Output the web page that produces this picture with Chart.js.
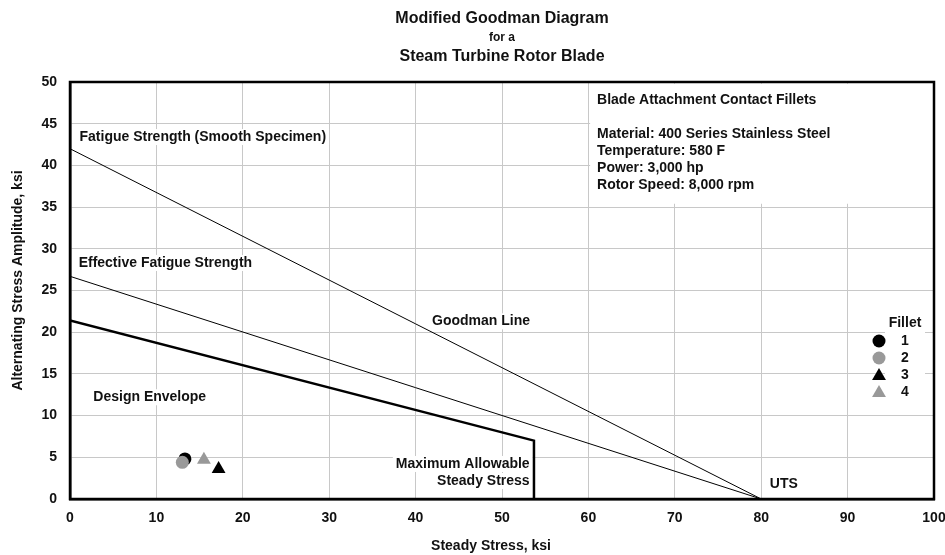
<!DOCTYPE html>
<html>
<head>
<meta charset="utf-8">
<script src="https://cdn.jsdelivr.net/npm/chart.js@4.4.1/dist/chart.umd.min.js"></script>
<style>
  html, body { margin: 0; padding: 0; background: #fff; }
  #wrap { width: 945px; height: 555px; }
</style>
</head>
<body>
<div id="wrap"><canvas id="goodman"></canvas></div>
<script>
// steady stress (x) / alternating stress (y), ksi
const fatigueX = [0, 80];
const fatigueY = [42, 0];
const effectiveX = [0, 80];
const effectiveY = [26.7, 0];
const envelopeX = [0, 53.7, 53.7];
const envelopeY = [21.4, 7.0, 0];

const filletNames = ['1', '2', '3', '4'];
const filletX = [13.3, 13.0, 17.2, 15.5];
const filletY = [4.8, 4.4, 3.6, 4.7];
const filletColors = ['#000000', '#999999', '#000000', '#999999'];
const filletShapes = ['circle', 'circle', 'triangle', 'triangle'];

const xMin = 0, xMax = 100, xStep = 10;
const yMin = 0, yMax = 50, yStep = 5;

const titleLines = ['Modified Goodman Diagram', 'for a', 'Steam Turbine Rotor Blade'];
const infoLines = ['Blade Attachment Contact Fillets', '', 'Material: 400 Series Stainless Steel',
  'Temperature: 580 F', 'Power: 3,000 hp', 'Rotor Speed: 8,000 rpm'];

const FONT = '"Liberation Sans", Arial, sans-serif';
const INK = '#111';

function pts(xs, ys) {
  return xs.map((x, i) => ({ x: x, y: ys[i] }));
}

const lineSets = [
  { label: 'Fatigue Strength', data: pts(fatigueX, fatigueY), borderWidth: 1 },
  { label: 'Effective Fatigue Strength', data: pts(effectiveX, effectiveY), borderWidth: 1 },
  { label: 'Design Envelope', data: pts(envelopeX, envelopeY), borderWidth: 2.5 }
].map(d => Object.assign(d, {
  showLine: true, borderColor: '#000', pointRadius: 0, fill: false, order: 10
}));

const filletSets = filletNames.map((n, i) => ({
  label: 'Fillet ' + n,
  data: [{ x: filletX[i], y: filletY[i] }],
  pointStyle: filletShapes[i],
  pointRadius: filletShapes[i] == 'circle' ? 6.5 : 8,
  backgroundColor: filletColors[i],
  borderColor: filletColors[i],
  borderWidth: 0,
  order: [2, 1, 4, 3][i]
}));

function label(ctx, x, y, lines, opts) {
  const o = Object.assign({ size: 14, align: 'left', box: true, gap: 17 }, opts || {});
  ctx.font = 'bold ' + o.size + 'px ' + FONT;
  ctx.textAlign = o.align;
  ctx.textBaseline = 'middle';
  lines.forEach((t, i) => {
    const w = ctx.measureText(t).width;
    const yy = y + i * o.gap;
    if (o.box && t) {
      const x0 = o.align == 'right' ? x - w : x;
      ctx.fillStyle = '#fff';
      ctx.fillRect(x0 - 3, yy - 8, w + 6, 16);
    }
    ctx.fillStyle = INK;
    ctx.fillText(t, x, yy);
  });
}

const decor = {
  id: 'decor',
  beforeDatasetsDraw(chart) {
    const ctx = chart.ctx, sx = chart.scales.x, sy = chart.scales.y;
    ctx.save();
    // white panel behind the info block
    ctx.fillStyle = '#fff';
    ctx.fillRect(sx.getPixelForValue(60.2), sy.getPixelForValue(49.8),
      sx.getPixelForValue(100) - sx.getPixelForValue(60.2) - 1,
      sy.getPixelForValue(35.4) - sy.getPixelForValue(49.8));
    label(ctx, sx.getPixelForValue(61), sy.getPixelForValue(47.8), infoLines, { box: false });
    label(ctx, sx.getPixelForValue(1.1), sy.getPixelForValue(43.4), ['Fatigue Strength (Smooth Specimen)']);
    label(ctx, sx.getPixelForValue(1.0), sy.getPixelForValue(28.3), ['Effective Fatigue Strength']);
    label(ctx, sx.getPixelForValue(2.7), sy.getPixelForValue(12.2), ['Design Envelope']);
    label(ctx, sx.getPixelForValue(41.9), sy.getPixelForValue(21.3), ['Goodman Line']);
    label(ctx, sx.getPixelForValue(53.2), sy.getPixelForValue(4.2), ['Maximum Allowable', 'Steady Stress'], { align: 'right' });
    label(ctx, sx.getPixelForValue(81.0), sy.getPixelForValue(1.8), ['UTS']);

    // legend
    const a = chart.chartArea;
    const lx = a.right - 45, ly = a.top + 241;
    ctx.fillStyle = '#fff';
    ctx.fillRect(lx - 4, ly - 10, 40, 95);
    ctx.fillStyle = INK;
    ctx.font = 'bold 14px ' + FONT;
    ctx.textAlign = 'center';
    ctx.textBaseline = 'middle';
    ctx.fillText('Fillet', lx + 16, ly);
    filletSets.forEach((d, i) => {
      const y = ly + 18 + i * 17;
      ctx.fillStyle = d.backgroundColor;
      ctx.strokeStyle = d.borderColor;
      ctx.lineWidth = 0.01;
      Chart.helpers.drawPoint(ctx, { pointStyle: d.pointStyle, radius: d.pointRadius, rotation: 0, borderWidth: 0 },
        lx - 10, y + (d.pointStyle == 'triangle' ? 1 : 0));
      ctx.fillStyle = INK;
      ctx.fillText(filletNames[i], lx + 16, y);
    });
    ctx.restore();
  },
  afterDraw(chart) {
    const ctx = chart.ctx, a = chart.chartArea;
    ctx.save();
    ctx.strokeStyle = '#000';
    ctx.lineWidth = 2.5;
    ctx.strokeRect(a.left, a.top, a.right - a.left, a.bottom - a.top);
    // titles
    const cx = (a.left + a.right) / 2;
    ctx.fillStyle = INK;
    ctx.textAlign = 'center';
    ctx.textBaseline = 'middle';
    ctx.font = 'bold 16px ' + FONT;
    ctx.fillText(titleLines[0], cx, 19);
    ctx.font = 'bold 12px ' + FONT;
    ctx.fillText(titleLines[1], cx, 38);
    ctx.font = 'bold 16px ' + FONT;
    ctx.fillText(titleLines[2], cx, 57);
    // axis titles
    ctx.font = 'bold 14px ' + FONT;
    ctx.fillText('Steady Stress, ksi', cx - 11, 546);
    ctx.translate(18, (a.top + a.bottom) / 2 - 10);
    ctx.rotate(-Math.PI / 2);
    ctx.fillText('Alternating Stress Amplitude, ksi', 0, 0);
    ctx.restore();
  }
};

new Chart(document.getElementById('goodman'), {
  type: 'scatter',
  data: { datasets: lineSets.concat(filletSets) },
  options: {
    responsive: true,
    maintainAspectRatio: false,
    animation: false,
    layout: { padding: { top: 82, right: 11, left: 0, bottom: 0 } },
    plugins: { legend: { display: false }, tooltip: { enabled: false }, title: { display: false } },
    scales: {
      x: {
        type: 'linear', min: xMin, max: xMax,
        ticks: { stepSize: xStep, color: INK, font: { family: FONT, size: 14, weight: 'bold' }, padding: 11 },
        grid: { color: '#c8c8c8', lineWidth: 1, drawTicks: false },
        border: { color: '#000', width: 2.5 },
        afterFit(s) { s.height = 56; s.paddingRight = 0; s.paddingLeft = 0; }
      },
      y: {
        type: 'linear', min: yMin, max: yMax,
        ticks: { stepSize: yStep, color: INK, font: { family: FONT, size: 14, weight: 'bold' }, padding: 13 },
        grid: { color: '#c8c8c8', lineWidth: 1, drawTicks: false },
        border: { color: '#000', width: 2.5 },
        afterFit(s) { s.width = 70; s.paddingTop = 0; s.paddingBottom = 0; }
      }
    }
  },
  plugins: [decor]
});
</script>
</body>
</html>
